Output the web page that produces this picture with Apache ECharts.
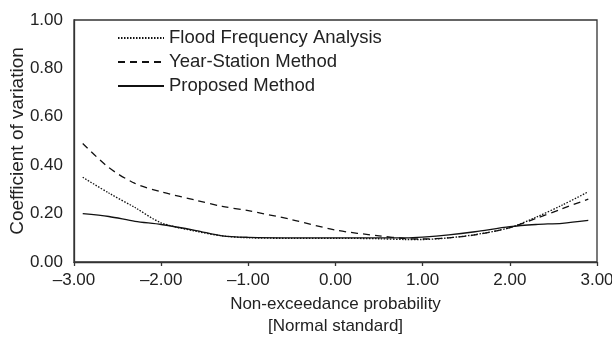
<!DOCTYPE html>
<html lang="en">

<head>
    <meta charset="UTF-8">
    <title>Coefficient of variation</title>
    <style>
        * {
            padding: 0;
            margin: 0;
        }
    </style>
</head>

<body>
    <div id="main" style="width: 612px; height: 342px;"></div>
    <script src="https://cdn.jsdelivr.net/npm/echarts@6/dist/echarts.min.js"></script>
    <script>
        let mychart = echarts.init(document.getElementById('main'))

        // x positions (normal standard variate)
        const xData = [-2.9, -2.6, -2.3, -2.0, -1.6, -1.3, -1.0, -0.5, 0, 0.5, 0.8, 1.0, 1.3, 1.6, 2.0, 2.3, 2.6, 2.9]
        const floodData = [0.350, 0.285, 0.225, 0.162, 0.127, 0.108, 0.100, 0.098, 0.098, 0.096, 0.093, 0.093, 0.100, 0.113, 0.142, 0.185, 0.235, 0.290]
        const yearData = [0.490, 0.390, 0.325, 0.290, 0.255, 0.230, 0.212, 0.175, 0.132, 0.108, 0.097, 0.095, 0.100, 0.112, 0.142, 0.180, 0.220, 0.260]
        const proposedData = [0.200, 0.188, 0.168, 0.155, 0.130, 0.108, 0.102, 0.100, 0.100, 0.100, 0.100, 0.103, 0.112, 0.125, 0.146, 0.155, 0.160, 0.172]
        const seriesNames = ['Flood Frequency Analysis', 'Year-Station Method', 'Proposed Method']

        const pairs = ys => xData.map((x, i) => [x, ys[i]])
        const txt = '#222'
        const font = 'Liberation Sans, Arial, sans-serif'

        function lineSeries(name, ys, dash) {
            return {
                name: name,
                type: 'line',
                smooth: 0.3,
                symbol: 'none',
                lineStyle: { color: '#111', width: 1.3, type: dash },
                itemStyle: { color: '#111' },
                data: pairs(ys)
            }
        }

        let options = {
            animation: false,
            textStyle: { fontFamily: font },
            grid: {
                left: 74,
                top: 20,
                right: 15,
                bottom: 80,
                outerBoundsMode: 'none',
                show: true,
                borderColor: '#333',
                borderWidth: 1.3
            },
            legend: {
                orient: 'vertical',
                left: 117,
                top: 28,
                padding: 0,
                itemWidth: 46,
                itemHeight: 14,
                itemGap: 4,
                itemStyle: { opacity: 0 },
                data: seriesNames,
                textStyle: { color: txt, fontSize: 18.5, lineHeight: 20, fontFamily: font }
            },
            xAxis: {
                type: 'value',
                min: -3,
                max: 3,
                interval: 1,
                name: 'Non-exceedance probability\n[Normal standard]',
                nameLocation: 'middle',
                nameGap: 31,
                nameMoveOverlap: false,
                nameTextStyle: { color: txt, fontSize: 17, lineHeight: 22 },
                axisLine: { onZero: false, lineStyle: { color: '#333', width: 1.3 } },
                axisTick: { show: true, length: 4, lineStyle: { color: '#333', width: 1.3 } },
                axisLabel: {
                    color: txt,
                    fontSize: 17,
                    margin: 10,
                    formatter: v => (v < 0 ? '\u2013' : '') + Math.abs(v).toFixed(2)
                },
                splitLine: { show: false }
            },
            yAxis: {
                type: 'value',
                min: 0,
                max: 1,
                interval: 0.2,
                name: 'Coefficient of variation',
                nameLocation: 'middle',
                nameGap: 47,
                nameMoveOverlap: false,
                nameTextStyle: { color: txt, fontSize: 19 },
                axisLine: { show: true, onZero: false, lineStyle: { color: '#333', width: 1.3 } },
                axisTick: { show: false },
                axisLabel: {
                    color: txt,
                    fontSize: 17,
                    margin: 11,
                    formatter: v => v.toFixed(2)
                },
                splitLine: { show: false }
            },
            series: [
                lineSeries(seriesNames[0], floodData, [1.5, 1.5]),
                lineSeries(seriesNames[1], yearData, [7, 5]),
                lineSeries(seriesNames[2], proposedData, 'solid')
            ]
        }

        mychart.setOption(options);
    </script>
</body>

</html>
